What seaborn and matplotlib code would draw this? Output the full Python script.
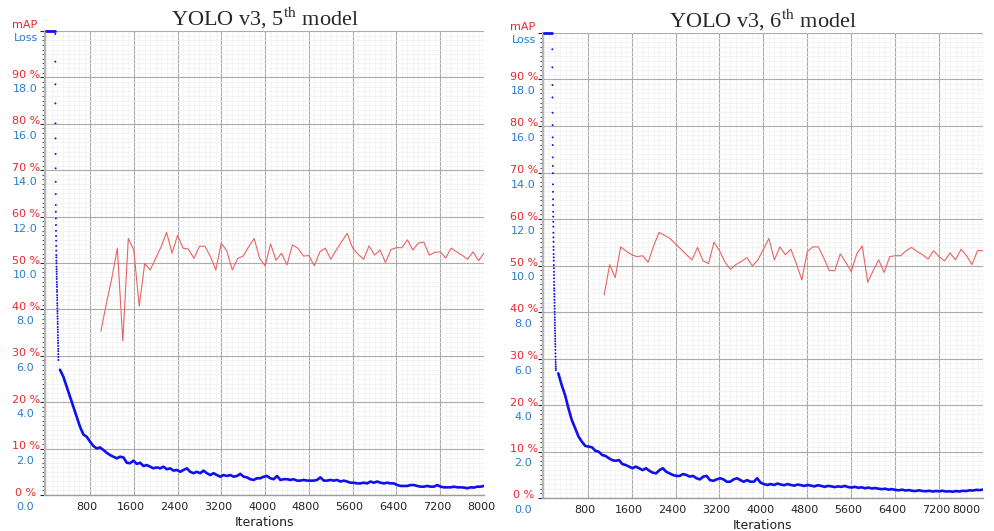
import numpy as np
import matplotlib.pyplot as plt
import matplotlib.transforms as mtransforms
import seaborn as sns

# ---- data ----
# mAP (%) every 100 iterations
map_iters_5 = np.arange(1000, 8001, 100)
map_5 = [35.3, 41.3, 46.8, 53.2, 33.2, 55.3, 52.8, 40.7, 49.9, 48.5,
         51.0, 53.5, 56.6, 52.1, 56.0, 53.2, 53.0, 51.0, 53.6, 53.6,
         51.4, 48.5, 54.3, 52.6, 48.5, 51.0, 51.5, 53.5, 55.3, 51.0,
         49.4, 54.1, 50.6, 52.1, 49.6, 53.9, 53.2, 51.5, 51.6, 49.4,
         52.4, 53.2, 50.8, 52.8, 54.6, 56.4, 53.2, 51.9, 50.8, 53.7,
         51.7, 52.8, 50.1, 52.9, 53.3, 53.3, 55.0, 52.8, 54.3, 54.5,
         51.7, 52.3, 52.4, 51.1, 53.2, 52.4, 51.7, 50.8, 52.4, 50.5,
         52.1]

map_iters_6 = np.arange(1100, 8001, 100)
map_6 = [43.7, 50.2, 47.4, 54.0, 53.1, 52.3, 51.9, 52.1, 50.7,
         54.2, 57.1, 56.5, 55.8, 54.6, 53.5, 52.3, 51.2, 53.9, 51.0,
         50.4, 55.0, 53.2, 50.7, 49.2, 50.2, 50.9, 51.7, 49.9, 51.2,
         53.5, 55.8, 51.2, 54.0, 52.3, 53.5, 50.4, 46.9, 53.0, 54.0,
         54.0, 51.6, 48.9, 48.9, 52.5, 50.7, 48.7, 52.5, 54.2, 46.4,
         48.9, 51.2, 48.5, 51.9, 52.1, 52.1, 53.2, 53.9, 53.0, 52.3,
         51.4, 53.2, 51.9, 51.0, 52.7, 51.2, 53.5, 52.1, 50.2, 53.2,
         53.2]

# loss above 20 is pinned to the top edge of the chart
head_iters_5 = [0, 165]
head_iters_6 = [0, 155]
head_loss = [20.0, 20.0]

# first iterations: one dot per iteration
dots_start_5 = 165
dots_5 = [19.87, 18.68, 17.70, 16.88, 16.02, 15.37, 14.70, 14.08, 13.50, 12.97,
          12.50, 12.21, 11.92, 11.64, 11.39, 11.16, 10.96, 10.73, 10.53, 10.34,
          10.24, 10.10, 9.99, 9.84, 9.73, 9.63, 9.53, 9.41, 9.31, 9.18,
          9.07, 8.97, 8.84, 8.75, 8.62, 8.51, 8.40, 8.27, 8.17, 8.05,
          7.93, 7.83, 7.70, 7.60, 7.47, 7.37, 7.24, 7.13, 7.02, 6.89,
          6.78, 6.66, 6.55, 6.43, 6.30, 6.20, 6.07, 5.95, 5.82]

dots_start_6 = 155
dots_6 = [19.30, 18.52, 17.76, 17.23, 16.57, 16.04, 15.51, 15.18, 14.65, 14.28,
          13.97, 13.49, 13.17, 12.85, 12.60, 12.31, 12.10, 11.88, 11.67, 11.41,
          11.21, 11.02, 10.81, 10.67, 10.49, 10.35, 10.21, 10.02, 9.88, 9.73,
          9.59, 9.45, 9.30, 9.16, 9.02, 8.92, 8.77, 8.66, 8.52, 8.40,
          8.26, 8.14, 8.01, 7.90, 7.77, 7.66, 7.54, 7.43, 7.31, 7.20,
          7.08, 6.97, 6.85, 6.74, 6.62, 6.51, 6.37, 6.22, 6.08, 5.95,
          5.85, 5.75, 5.66, 5.58, 5.50]

# smoothed loss curve afterwards
loss_5 = [5.40, 5.10, 4.67, 4.24, 3.80, 3.37, 2.94, 2.61, 2.51, 2.30,
          2.11, 2.01, 2.05, 1.94, 1.82, 1.72, 1.65, 1.58, 1.65, 1.62,
          1.39, 1.37, 1.48, 1.34, 1.39, 1.25, 1.29, 1.22, 1.15, 1.19,
          1.15, 1.22, 1.11, 1.15, 1.05, 1.08, 1.00, 1.08, 1.15, 1.00,
          0.94, 1.00, 0.94, 1.05, 0.94, 0.86, 0.94, 0.86, 0.79, 0.86,
          0.82, 0.86, 0.79, 0.82, 0.91, 0.79, 0.76, 0.68, 0.65, 0.72,
          0.72, 0.79, 0.82,
          0.72, 0.68, 0.82, 0.65, 0.68, 0.68, 0.65, 0.68, 0.62, 0.62,
          0.65, 0.62, 0.62, 0.62, 0.65, 0.76, 0.62, 0.62, 0.65, 0.62,
          0.65, 0.58, 0.62, 0.58, 0.53, 0.53, 0.50, 0.50, 0.53, 0.50,
          0.58, 0.53, 0.58, 0.53, 0.50, 0.53, 0.50, 0.50, 0.43, 0.39,
          0.39, 0.39, 0.43, 0.43, 0.39, 0.36, 0.36, 0.39, 0.36, 0.36,
          0.43, 0.36, 0.33, 0.33, 0.33, 0.36, 0.33, 0.33, 0.32, 0.29,
          0.33, 0.32, 0.36, 0.36, 0.39]
loss_iters_5 = np.linspace(252, 8000, len(loss_5))

loss_6 = [5.36, 4.86, 4.43, 3.86, 3.35, 3.00, 2.64, 2.42, 2.24, 2.21,
          2.18, 2.03, 1.99, 1.85, 1.81, 1.71, 1.63, 1.60, 1.63, 1.46,
          1.42, 1.35, 1.28, 1.35, 1.28, 1.20, 1.28, 1.17, 1.09, 1.06,
          1.20, 1.28, 1.13, 1.06, 0.99, 0.95, 0.95, 1.03, 0.99, 0.92,
          0.95, 0.85, 0.80, 0.92, 0.95, 0.77, 0.74, 0.80, 0.85, 0.80,
          0.70, 0.70, 0.80, 0.85, 0.77, 0.70, 0.77, 0.70, 0.70, 0.85,
          0.66, 0.60, 0.56,
          0.60, 0.56, 0.62, 0.58, 0.55, 0.60, 0.56, 0.53, 0.58, 0.55,
          0.52, 0.56, 0.53, 0.50, 0.55, 0.52, 0.48, 0.52, 0.50, 0.47,
          0.50, 0.48, 0.52, 0.47, 0.45, 0.48, 0.44, 0.46, 0.42, 0.45,
          0.41, 0.43, 0.40, 0.38, 0.40, 0.36, 0.38, 0.35, 0.33, 0.36,
          0.32, 0.34, 0.31, 0.30, 0.33, 0.30, 0.29, 0.31, 0.28, 0.30,
          0.29, 0.31, 0.28, 0.29, 0.27, 0.30, 0.28, 0.31, 0.30, 0.33,
          0.32, 0.35, 0.34, 0.36]
loss_iters_6 = np.linspace(264, 8000, len(loss_6))

x_ticks = [800, 1600, 2400, 3200, 4000, 4800, 5600, 6400, 7200, 8000]
pct_ticks = [0, 10, 20, 30, 40, 50, 60, 70, 80, 90]

RED = '#e8262b'
BLUE_TXT = '#2a7ccf'
LOSS_BLUE = '#1010ee'
MAP_RED = '#e86464'

sns.set_style("white")
plt.rcParams['font.family'] = ['DejaVu Sans']
plt.rcParams['mathtext.fontset'] = 'stix'

fig = plt.figure(figsize=(9.95, 5.31), dpi=100)


def px(dx, dy):
    return mtransforms.ScaledTranslation(dx / 100, dy / 100, fig.dpi_scale_trans)


def shift(ax, dx, dy):
    # offset in pixels from an (axes x, data y) anchor
    base = mtransforms.blended_transform_factory(ax.transAxes, ax.transData)
    return base + px(dx, dy)


def draw_panel(pos, xmin, nth, head_iters, dots_start, dots, loss_iters, loss,
               map_iters, map_vals, last_right):
    ax = fig.add_axes(pos)
    sns.lineplot(x=map_iters, y=map_vals, ax=ax, color=MAP_RED, linewidth=0.8)

    ax.set_xlim(xmin, 8000)
    ax.set_ylim(0, 100)
    ax.set_xticks(x_ticks, [str(t) for t in x_ticks])
    ax.set_xticks(np.arange(0, 8001, 100), minor=True)
    ax.set_yticks(pct_ticks + [100])
    ax.set_yticks(np.arange(0, 101, 1), minor=True)
    ax.grid(which='major', color='#ababab', linewidth=0.8)
    ax.grid(which='minor', color='#f0f0f0', linewidth=0.5)
    ax.set_axisbelow(True)
    ax.tick_params(axis='y', which='both', left=False, labelleft=False)
    ax.tick_params(axis='x', which='both', length=0, pad=5, labelsize=8,
                   labelcolor='#222222')
    labels = ax.get_xticklabels()
    for lab in labels:
        lab.set_transform(lab.get_transform() + px(-3, 0))
    if last_right:
        labels[-1].set_ha('right')
    ax.set_ylabel('')
    ax.set_xlabel('Iterations', fontsize=9, color='#222222', labelpad=3)
    for name in ['top', 'right']:
        ax.spines[name].set_visible(False)
    ax.spines['left'].set_color('#b5b5b5')
    ax.spines['left'].set_linewidth(1.6)
    ax.spines['bottom'].set_color('#9a9a9a')
    ax.spines['bottom'].set_linewidth(1.0)

    for v in pct_ticks:
        ax.text(0, v, f"{v} %", transform=shift(ax, -19, 2.5), color=RED,
                fontsize=8, ha='center', va='center')
        ax.text(0, v, f"{v / 5:.1f}", transform=shift(ax, -20, -12), color=BLUE_TXT,
                fontsize=8, ha='center', va='center')
    ax.text(0, 100, "mAP", transform=shift(ax, -20, 6), color=RED,
            fontsize=8, ha='center', va='center')
    ax.text(0, 100, "Loss", transform=shift(ax, -19, -7), color=BLUE_TXT,
            fontsize=8, ha='center', va='center')

    ax.set_title(f"YOLO v3, {nth}$^{{\\rm th}}$ model", fontfamily='Liberation Serif',
                 fontsize=16, pad=4)

    ax2 = ax.twinx()
    sns.lineplot(x=head_iters, y=head_loss, ax=ax2, color=LOSS_BLUE,
                 linewidth=2.0, clip_on=False)
    dot_iters = np.arange(dots_start, dots_start + len(dots))
    sns.scatterplot(x=dot_iters, y=dots, ax=ax2, color=LOSS_BLUE, s=2,
                    edgecolor='none')
    sns.lineplot(x=loss_iters, y=loss, ax=ax2, color=LOSS_BLUE, linewidth=1.9)
    ax2.set_ylim(0, 20)
    ax2.set_xlim(xmin, 8000)
    ax2.axis('off')


draw_panel([45 / 995, 36 / 531, 439 / 995, 464 / 531], -22, 5,
           head_iters_5, dots_start_5, dots_5, loss_iters_5, loss_5,
           map_iters_5, map_5, False)
draw_panel([543 / 995, 33 / 531, 440 / 995, 465 / 531], -15, 6,
           head_iters_6, dots_start_6, dots_6, loss_iters_6, loss_6,
           map_iters_6, map_6, True)

fig.savefig('out.png', dpi=100)
